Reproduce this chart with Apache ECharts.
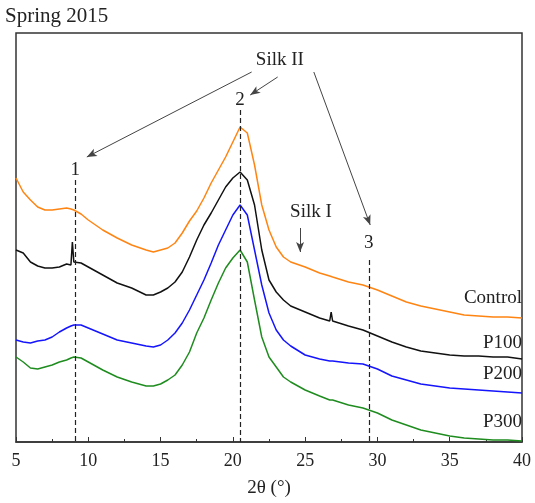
<!DOCTYPE html>
<html>
<head>
  <meta charset="utf-8">
  <title>Spring 2015 XRD</title>
  <script src="https://cdn.jsdelivr.net/npm/echarts@6/dist/echarts.min.js"></script>
  <style>
    html, body { margin: 0; padding: 0; background: #fff; }
    #main { width: 535px; height: 503px; }
  </style>
</head>
<body>
  <div id="main"></div>
  <script>
    // 2θ positions (°) shared by all patterns
    var twoTheta = [5,5.5,6,6.5,7,7.5,8,8.5,8.8,8.9,9,9.5,10,11,12,13,14,14.5,15,15.5,16,16.5,17,17.5,18,18.5,19,19.5,20,20.5,21,21.5,22,22.5,23,23.5,24,25,26,26.7,26.8,26.9,27,28,29,30,31,32,33,34,35,36,37,38,39,40];

    // intensity (a.u., stacked with offset as in the figure)
    var control = [264,250,242,235,232,232,233,234,233,233,232,228,222,212,204,197,192,190,192,194,199,209,221,231,244,259,272,285,300,315,309,277,237,212,195,185,180,175,169,166,165,165,164,160,157,152,146,140,136,133,130,127,126,125,125,124];
    var p100 = [192,189,180,176,174,174,175,178,177,200,180,179,175,167,159,154,147,147,150,154,160,170,185,202,217,229,242,255,264,270,262,237,192,162,150,142,136,130,124,121,130,121,120,116,112,106,100,95,91,89,87,86,86,85,85,83];
    var p200 = [102,100,99,101,102,105,110,114,116,117,117,117,114,108,102,99,96,95,97,102,109,119,132,147,162,179,197,212,227,237,227,192,157,129,112,102,96,87,83,81,81,81,80,79,78,73,66,62,58,56,54,53,52,51,50,49];
    var p300 = [85,80,74,73,75,77,80,82,84,85,85,84,80,72,65,60,56,56,58,62,67,77,90,109,124,142,159,174,184,192,180,142,105,85,75,65,60,52,46,42,42,42,41,37,34,29,22,17,12,9,6,4,3,2,2,1];

    var seriesNames = ['Control', 'P100', 'P200', 'P300'];
    var seriesData = [control, p100, p200, p300];
    var seriesColors = ['#ff8412', '#111111', '#1414ff', '#1e8c1e'];

    // peak positions marked with dashed lines
    var peakPos = [9.1, 20.5, 29.4];
    var peakLabels = ['1', '2', '3'];

    var serif = '"Liberation Serif", "DejaVu Serif", serif';

    var chart = echarts.init(document.getElementById('main'));

    function pairs(ys) {
      var out = [];
      for (var i = 0; i < twoTheta.length; i++) out.push([twoTheta[i], ys[i]]);
      return out;
    }

    var dash = { type: [5, 3], color: '#222', width: 1.2 };
    var thin = { type: 'solid', color: '#444', width: 1 };

    var marks = [
      // dashed peak lines
      [{ coord: [peakPos[0], 262], symbol: 'none', lineStyle: dash }, { coord: [peakPos[0], 0], symbol: 'none' }],
      [{ coord: [peakPos[1], 332], symbol: 'none', lineStyle: dash }, { coord: [peakPos[1], 0], symbol: 'none' }],
      [{ coord: [peakPos[2], 182], symbol: 'none', lineStyle: dash }, { coord: [peakPos[2], 0], symbol: 'none' }],
      // Silk II arrows
      [{ coord: [21.3, 370], symbol: 'none', lineStyle: thin }, { coord: [9.9, 285], symbol: 'arrow' }],
      [{ coord: [23.1, 365], symbol: 'none', lineStyle: thin }, { coord: [21.2, 347], symbol: 'arrow' }],
      [{ coord: [25.6, 370], symbol: 'none', lineStyle: thin }, { coord: [29.5, 217], symbol: 'arrow' }],
      // Silk I arrow
      [{ coord: [24.65, 214], symbol: 'none', lineStyle: thin }, { coord: [24.65, 190], symbol: 'arrow' }]
    ];

    var series = [];
    for (var s = 0; s < seriesNames.length; s++) {
      series.push({
        name: seriesNames[s],
        type: 'line',
        data: pairs(seriesData[s]),
        showSymbol: false,
        lineStyle: { color: seriesColors[s], width: 1.5 },
        itemStyle: { color: seriesColors[s] },
        animation: false,
        z: 3
      });
    }
    series[0].markLine = {
      silent: true,
      animation: false,
      symbolSize: [6, 10],
      label: { show: false },
      data: marks
    };

    chart.setOption({
      backgroundColor: '#fff',
      animation: false,
      title: {
        text: 'Spring 2015',
        left: 5,
        top: 6,
        padding: 0,
        textStyle: { fontFamily: serif, fontSize: 21, fontWeight: 'normal', color: '#222' }
      },
      grid: {
        left: 16, right: 13, top: 33, bottom: 61,
        show: true, borderColor: '#333', borderWidth: 1.5
      },
      xAxis: {
        type: 'value',
        min: 5, max: 40, interval: 5,
        name: '2θ (°)',
        nameLocation: 'middle',
        nameGap: 37,
        nameTextStyle: { fontFamily: serif, fontSize: 19, color: '#222' },
        axisLine: { show: true, lineStyle: { color: '#333', width: 1.5 } },
        axisTick: { inside: true, length: 5, lineStyle: { color: '#333' } },
        minorTick: { show: true, splitNumber: 2, length: 3, lineStyle: { color: '#333' } },
        axisLabel: { fontFamily: serif, fontSize: 18, color: '#222', margin: 10 },
        splitLine: { show: false }
      },
      yAxis: {
        type: 'value',
        min: 0, max: 409,
        show: false,
        splitLine: { show: false }
      },
      series: series
    });

    // text annotations placed from data coordinates
    function px(x, y) { return chart.convertToPixel({ gridIndex: 0 }, [x, y]); }
    function txt(p, text, align) {
      return {
        type: 'text', x: p[0], y: p[1], z: 10,
        style: { text: text, fontFamily: serif, fontSize: 19, fill: '#222', align: align || 'center', verticalAlign: 'middle' }
      };
    }
    var g = [];
    g.push(txt(px(peakPos[0], 272), peakLabels[0]));
    g.push(txt(px(peakPos[1], 342), peakLabels[1]));
    g.push(txt(px(peakPos[2], 199), peakLabels[2]));
    g.push(txt(px(23.25, 382), 'Silk II'));
    g.push(txt(px(25.4, 230), 'Silk I'));
    // series labels at the right edge
    g.push(txt(px(40, 144), 'Control', 'right'));
    g.push(txt(px(40, 99), 'P100', 'right'));
    g.push(txt(px(40, 68), 'P200', 'right'));
    g.push(txt(px(40, 20), 'P300', 'right'));
    chart.setOption({ graphic: g });
  </script>
</body>
</html>
